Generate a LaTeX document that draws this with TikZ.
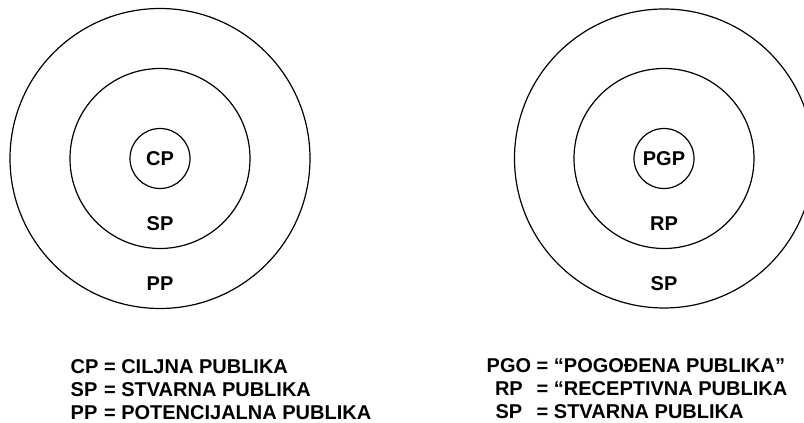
\documentclass[tikz,border=0pt]{standalone}
\usepackage{fontspec}
\setmainfont{Liberation Sans}
\usetikzlibrary{positioning}
\tikzset{
    ring/.style = {circle, draw=black, line width=1.2pt, inner sep=0pt, font=\bfseries\fontsize{20}{22}\selectfont},
    tag/.style = {inner sep=0pt, font=\bfseries\fontsize{20}{22}\selectfont},
    key/.style = {inner sep=0pt, font=\bfseries\fontsize{20}{23}\selectfont}
}

\begin{document}
\begin{tikzpicture}[x=1pt, y=1pt]
\useasboundingbox (0,0) rectangle (804,423);
% left target
\node (cp) [ring, minimum size=60pt] at (160,264.5) {CP};
\node (sp) [ring, minimum size=180pt] at (cp.center) {};
\node (pp) [ring, minimum size=300pt] at (cp.center) {};
\node (sptext) [tag, below=27pt of cp] {SP};
\node (pptext) [tag, below=27pt of sp] {PP};

% right target
\node (pgp) [ring, minimum size=60pt] at (664,264.5) {PGP};
\node (rp) [ring, minimum size=180pt] at (pgp.center) {};
\node (spr) [ring, minimum size=299pt] at (pgp.center) {};
\node (rptext) [tag, below=27pt of pgp] {RP};
\node (sprtext) [tag, below=27pt of rp] {SP};

% legends
\node (leftkey) [key, below=48pt of pp, xshift=61pt] {%
  \begin{tabular}{@{}l@{ = }l@{}}
  CP & CILJNA PUBLIKA\\
  SP & STVARNA PUBLIKA\\
  PP & POTENCIJALNA PUBLIKA
  \end{tabular}};
\node (rightkey) [key, below=48pt of spr, xshift=-27pt] {%
  \begin{tabular}{@{}c@{ = }l@{}}
  PGO & “POGOĐENA PUBLIKA”\\
  RP & “RECEPTIVNA PUBLIKA\\
  SP & STVARNA PUBLIKA
  \end{tabular}};
\end{tikzpicture}
\end{document}
